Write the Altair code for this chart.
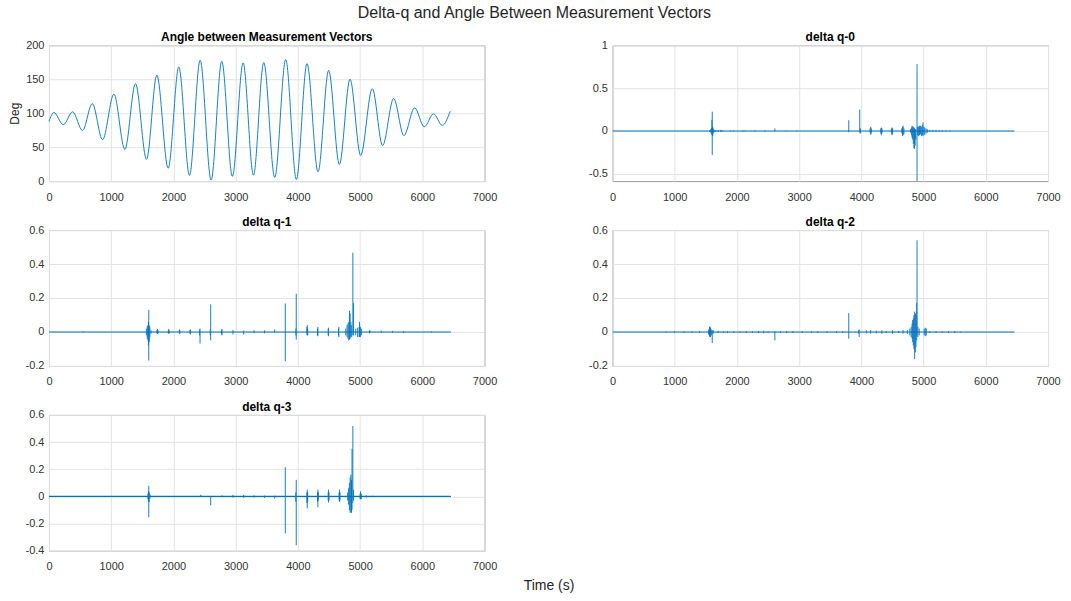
import altair as alt
import pandas as pd

FONT = "Liberation Sans"
BLUE = "#0072BD"
W, H = 436, 136

# ---------------- data ----------------
angle_t = [0, 80, 230, 380, 540, 696, 862, 1044, 1220, 1391, 1568, 1734, 1916, 2087, 2258,
           2430, 2606, 2777, 2948, 3120, 3286, 3452, 3628, 3805, 3976, 4147, 4324, 4495,
           4667, 4838, 5009, 5196, 5362, 5539, 5704, 5876, 6031, 6181, 6320, 6449]
angle_deg = [88, 101, 83, 102, 74.5, 114, 61, 128, 46.6, 143.6, 32, 156, 19, 168, 8.3,
             178, 1.5, 176.5, 7, 174, 8.8, 174.5, 5.4, 179, 2.4, 173, 13.7, 163,
             24.5, 150, 38, 136, 52.5, 121.6, 67, 107.8, 80, 99, 82, 103]

# flat part of every delta-q series
base_t = [0, 6460]
base_v = [0, 0]

# delta q-0 spikes: time, upper value, lower value
q0_t = [1560, 1580, 1590, 1598, 1604, 1612, 1620, 1635, 1660, 1700, 1740, 1760,
        1900, 1950, 2100, 2130, 2290, 2450, 2610, 2790, 2960,
        3798, 3974, 3985, 4140, 4151, 4160, 4312, 4322, 4332, 4483, 4493, 4503,
        4650, 4662, 4672, 4684, 4790, 4805, 4815, 4825, 4835, 4845, 4855, 4865, 4875,
        4895, 4905, 4920, 4935, 4950, 4965, 4980, 4991, 5005, 5020, 5040, 5060,
        5100, 5150, 5200, 5250, 5300, 5360, 5420]
q0_hi = [0.008, 0.02, 0.035, 0.13, 0.225, 0.05, 0.03, 0.015, 0.01, 0.012, 0.012, 0.01,
         0.005, 0.006, 0.006, 0.004, 0.006, 0.004, 0.03, 0.004, 0.004,
         0.125, 0.25, 0.03, 0.03, 0.05, 0.03, 0.03, 0.04, 0.03, 0.03, 0.04, 0.03,
         0.03, 0.05, 0.06, 0.03, 0.02, 0.04, 0.06, 0.05, 0.05, 0.04, 0.03, 0.02, 0.02,
         0.78, 0.05, 0.05, 0.06, 0.06, 0.05, 0.07, 0.1, 0.05, 0.04, 0.03, 0.02,
         0.012, 0.01, 0.012, 0.008, 0.008, 0.006, 0.005]
q0_lo = [-0.008, -0.02, -0.03, -0.05, -0.28, -0.06, -0.03, -0.015, -0.008, -0.01, -0.01, -0.01,
         -0.005, -0.004, -0.006, -0.004, -0.006, -0.01, -0.005, -0.004, -0.004,
         -0.015, -0.02, -0.03, -0.02, -0.045, -0.03, -0.03, -0.05, -0.03, -0.03, -0.05, -0.04,
         -0.03, -0.06, -0.05, -0.04, -0.02, -0.05, -0.08, -0.1, -0.15, -0.2, -0.21, -0.17, -0.1,
         -0.62, -0.05, -0.06, -0.05, -0.04, -0.06, -0.05, -0.06, -0.04, -0.05, -0.03, -0.02,
         -0.01, -0.01, -0.008, -0.01, -0.008, -0.006, -0.005]

# delta q-1 spikes
q1_t = [550, 1565, 1580, 1592, 1598, 1604, 1612, 1622, 1640, 1735, 1743, 1752, 1918, 1925, 1932,
        2095, 2102, 2266, 2273, 2421, 2428, 2592, 2599, 2775, 2781, 2958, 3129, 3295, 3466, 3627,
        3798, 3968, 3974, 4145, 4151, 4158, 4316, 4322, 4487, 4493, 4653, 4659,
        4770, 4790, 4805, 4818, 4830, 4840, 4852, 4865, 4884, 4895,
        4930, 4960, 4985, 4991, 5005, 5020, 5150, 5160, 5340, 5520, 5700, 6150]
q1_hi = [0.005, 0.02, 0.035, 0.04, 0.06, 0.129, 0.04, 0.03, 0.01, 0.012, 0.018, 0.01, 0.01, 0.018, 0.008,
         0.012, 0.015, 0.012, 0.015, 0.015, 0.02, 0.015, 0.162, 0.012, 0.018, 0.012, 0.008, 0.01, 0.01, 0.015,
         0.168, 0.02, 0.225, 0.03, 0.04, 0.02, 0.02, 0.03, 0.02, 0.025, 0.02, 0.03,
         0.02, 0.04, 0.05, 0.06, 0.125, 0.11, 0.06, 0.04, 0.467, 0.17,
         0.02, 0.025, 0.03, 0.06, 0.03, 0.02, 0.01, 0.008, 0.008, 0.006, 0.006, 0.004]
q1_lo = [0, -0.02, -0.04, -0.05, -0.08, -0.168, -0.06, -0.03, -0.01, -0.008, -0.012, -0.01, -0.008, -0.01, -0.008,
         -0.008, -0.012, -0.01, -0.015, -0.02, -0.068, -0.02, -0.05, -0.015, -0.02, -0.015, -0.015, -0.008, -0.008, -0.006,
         -0.172, -0.02, -0.045, -0.015, -0.02, -0.02, -0.02, -0.025, -0.02, -0.025, -0.02, -0.03,
         -0.02, -0.03, -0.04, -0.05, -0.045, -0.04, -0.03, -0.03, -0.02, -0.02,
         -0.02, -0.03, -0.03, -0.03, -0.03, -0.02, -0.008, -0.004, -0.005, -0.004, -0.004, -0.002]

# delta q-2 spikes
q2_t = [860, 1000, 1150, 1280, 1400, 1545, 1560, 1567, 1575, 1590, 1604, 1620,
        1700, 1780, 1850, 1950, 2050, 2150, 2250, 2350, 2430, 2500, 2610, 2700, 2800, 2900,
        3050, 3200, 3300, 3450, 3600, 3700, 3798, 3958, 3965,
        4080, 4150, 4240, 4330, 4400, 4500, 4600, 4670, 4740, 4780,
        4800, 4815, 4825, 4835, 4845, 4857, 4868, 4878, 4890, 4895, 4910, 4930,
        5010, 5028, 5045, 5100, 5200, 5300, 5400, 5500, 5600]
q2_hi = [0.004, 0.005, 0.004, 0.005, 0.006, 0.015, 0.03, 0.033, 0.025, 0.015, 0.01, 0.01,
         0.006, 0.005, 0.006, 0.005, 0.004, 0.006, 0.005, 0.006, 0.008, 0.005, 0.005, 0.005, 0.006, 0.005,
         0.005, 0.004, 0.005, 0.004, 0.005, 0.004, 0.111, 0.01, 0.015,
         0.01, 0.012, 0.008, 0.01, 0.006, 0.01, 0.006, 0.012, 0.01, 0.02,
         0.03, 0.05, 0.07, 0.08, 0.1, 0.12, 0.11, 0.1, 0.17, 0.54, 0.03, 0.02,
         0.02, 0.025, 0.02, 0.005, 0.005, 0.004, 0.005, 0.004, 0.003]
q2_lo = [-0.003, -0.004, -0.004, -0.005, -0.005, -0.015, -0.025, -0.03, -0.03, -0.02, -0.065, -0.01,
         -0.006, -0.005, -0.006, -0.005, -0.004, -0.006, -0.005, -0.006, -0.008, -0.005, -0.05, -0.005, -0.006, -0.005,
         -0.005, -0.004, -0.005, -0.004, -0.005, -0.004, -0.04, -0.01, -0.03,
         -0.008, -0.01, -0.008, -0.01, -0.006, -0.01, -0.006, -0.01, -0.01, -0.02,
         -0.03, -0.04, -0.06, -0.08, -0.1, -0.16, -0.12, -0.09, -0.05, -0.02, -0.03, -0.02,
         -0.02, -0.025, -0.02, -0.005, -0.005, -0.004, -0.005, -0.004, -0.003]

# delta q-3 spikes
q3_t = [1590, 1598, 1604, 1612, 1625, 2439, 2599, 2781, 2958, 3129, 3295, 3466, 3627,
        3798, 3966, 3974, 4145, 4151, 4158, 4316, 4322, 4329, 4487, 4493, 4500, 4662, 4670, 4677,
        4800, 4815, 4828, 4840, 4852, 4862, 4870, 4884, 4895, 5000, 5007, 5020, 5100, 5200, 5300]
q3_hi = [0.02, 0.04, 0.078, 0.03, 0.015, 0.012, 0.003, 0.008, 0.012, 0.01, 0.008, 0.006, 0.005,
         0.215, 0.03, 0.122, 0.03, 0.05, 0.03, 0.03, 0.05, 0.03, 0.03, 0.05, 0.03, 0.03, 0.05, 0.03,
         0.03, 0.06, 0.1, 0.14, 0.16, 0.12, 0.35, 0.518, 0.05, 0.02, 0.037, 0.02, 0.008, 0.005, 0.004]
q3_lo = [-0.02, -0.04, -0.154, -0.04, -0.015, -0.003, -0.066, -0.006, -0.008, -0.01, -0.008, -0.012, -0.015,
         -0.273, -0.04, -0.359, -0.05, -0.088, -0.04, -0.04, -0.08, -0.03, -0.03, -0.045, -0.03, -0.03, -0.04, -0.03,
         -0.03, -0.06, -0.1, -0.12, -0.12, -0.12, -0.1, -0.05, -0.03, -0.02, -0.02, -0.02, -0.008, -0.005, -0.004]

x_ticks = [0, 1000, 2000, 3000, 4000, 5000, 6000, 7000]

# ---------------- helpers ----------------
LABEL_EXPR = "replace(datum.label, '\u2212', '-')"


def x_enc(title=None, **kw):
    axis_kw = dict(values=x_ticks, tickCount=len(x_ticks), format="d", labelExpr=LABEL_EXPR)
    if title is not None:
        axis_kw.update(title=title, **kw)
    else:
        axis_kw.update(title=None)
    return alt.X("t:Q", scale=alt.Scale(domain=[0, 7000], nice=False, zero=False),
                 axis=alt.Axis(**axis_kw))


def y_scale(domain):
    return alt.Scale(domain=domain, nice=False, zero=False)


def panel_title(text):
    return alt.TitleParams(text, fontSize=12, fontWeight="bold", font=FONT, color="#000000",
                           anchor="middle", offset=-5)


def delta_panel(name, t, hi, lo, domain, ticks, fmt, xtitle=None, **xkw):
    base_df = pd.DataFrame({"t": base_t, "v": base_v})
    sp_df = pd.DataFrame({"t": t, "hi": hi, "lo": lo})
    y_axis = alt.Axis(values=ticks, tickCount=len(ticks), format=fmt, labelExpr=LABEL_EXPR, title=None)
    base = alt.Chart(base_df).mark_line(color=BLUE, strokeWidth=1.1, clip=True).encode(
        x=x_enc(xtitle, **xkw),
        y=alt.Y("v:Q", scale=y_scale(domain), axis=y_axis),
    )
    spikes = alt.Chart(sp_df).mark_rule(color=BLUE, strokeWidth=0.9, clip=True).encode(
        x=alt.X("t:Q"),
        y=alt.Y("lo:Q"),
        y2="hi:Q",
    )
    return alt.layer(base, spikes).properties(width=W, height=H, title=panel_title(name))


# ---------------- panels ----------------
angle_df = pd.DataFrame({"t": angle_t, "deg": angle_deg})
p_angle = alt.Chart(angle_df).mark_line(color=BLUE, strokeWidth=0.9, interpolate="monotone").encode(
    x=x_enc(),
    y=alt.Y("deg:Q", scale=y_scale([0, 200]),
            axis=alt.Axis(values=[0, 50, 100, 150, 200], tickCount=5, format="d", title="Deg",
                          titleFontSize=12, titleFontWeight="normal", titleFont=FONT,
                          titleColor="#262626", titlePadding=4)),
).properties(width=W, height=H, title=panel_title("Angle between Measurement Vectors"))

p_q0 = delta_panel("delta q-0", q0_t, q0_hi, q0_lo, [-0.585, 1], [-0.5, 0, 0.5, 1], "~g")
p_q1 = delta_panel("delta q-1", q1_t, q1_hi, q1_lo, [-0.2, 0.6], [-0.2, 0, 0.2, 0.4, 0.6], "~g")
p_q2 = delta_panel("delta q-2", q2_t, q2_hi, q2_lo, [-0.2, 0.6], [-0.2, 0, 0.2, 0.4, 0.6], "~g")
p_q3 = delta_panel("delta q-3", q3_t, q3_hi, q3_lo, [-0.4, 0.6], [-0.4, -0.2, 0, 0.2, 0.4, 0.6], "~g",
                   xtitle="Time (s)", titleX=500, titleY=35, titleBaseline="middle",
                   titleAlign="center", titleFontSize=14, titleFontWeight="normal",
                   titleFont=FONT, titleColor="#262626")

chart = alt.concat(
    p_angle, p_q0, p_q1, p_q2, p_q3,
    columns=2,
    spacing={"row": 49, "column": 128},
    bounds="flush",
).properties(
    title=alt.TitleParams("Delta-q and Angle Between Measurement Vectors", fontSize=16,
                          fontWeight="normal", font=FONT, color="#262626", anchor="middle",
                          offset=10),
    padding={"left": 8, "top": 4, "right": 10, "bottom": 6},
    background="white",
).configure_view(
    stroke="#999999", strokeWidth=1,
).configure_axis(
    labelFont=FONT, labelFontSize=11, labelColor="#333333", labelPadding=5,
    labelFlush=False, labelOverlap=False,
    grid=True, gridColor="#e3e3e3", gridWidth=1,
    domain=False, ticks=False,
).configure_axisX(
    labelPadding=10,
).configure_title(
    font=FONT,
)

chart.save("out.html", embed_options={"renderer": "svg", "actions": False})
